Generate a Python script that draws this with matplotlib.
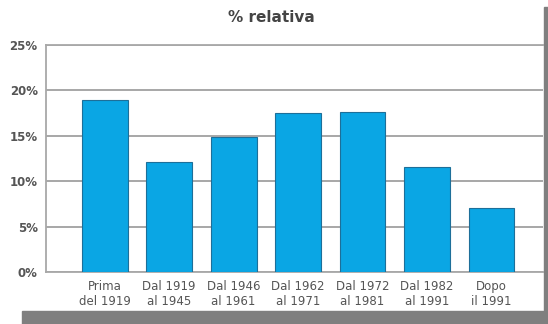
import matplotlib.pyplot as plt
import matplotlib.patches as patches

# Dati
categorie = ['Prima\ndel 1919', 'Dal 1919\nal 1945', 'Dal 1946\nal 1961', 'Dal 1962\nal 1971',
             'Dal 1972\nal 1981', 'Dal 1982\nal 1991', 'Dopo\nil 1991']
valori = [19.0, 12.1, 14.9, 17.5, 17.6, 11.6, 7.1]
ticks_y = [0, 5, 10, 15, 20, 25]
etichette_y = ['0%', '5%', '10%', '15%', '20%', '25%']

fig = plt.figure(figsize=(5.48, 3.24), dpi=100)
ax = fig.add_axes([0.084, 0.16, 0.907, 0.701])

ax.bar(range(len(valori)), valori, width=0.71, color='#0aa6e4',
       edgecolor='#1d6f99', linewidth=0.8, zorder=3)

ax.set_xlim(-0.91, 6.8)
ax.set_ylim(0, 25)
ax.set_yticks(ticks_y)
ax.set_yticklabels(etichette_y, fontsize=8.5, fontweight='bold', color='#555555')
ax.set_xticks(range(len(categorie)))
ax.set_xticklabels(categorie, fontsize=8.5, color='#555555', linespacing=1.15)
ax.tick_params(length=0, pad=6)
ax.tick_params(axis='y', pad=6)

# griglia e cornice
ax.grid(axis='y', color='#a0a0a0', linewidth=1.3, zorder=0)
for s in ax.spines.values():
    s.set_color('#a8a8a8')
    s.set_linewidth(1.3)
ax.spines['right'].set_visible(False)

fig.text(0.495, 0.945, '% relativa', ha='center', va='center',
         fontsize=11, fontweight='bold', color='#444444')

# ombra grigia
fig.patches.append(patches.Rectangle((0.040, 0), 0.96, 0.040, transform=fig.transFigure,
                                     color='#7f7f7f', zorder=5))
fig.patches.append(patches.Rectangle((0.9927, 0), 0.0073, 0.978, transform=fig.transFigure,
                                     color='#7f7f7f', zorder=5))

fig.savefig('out.png', dpi=100)
